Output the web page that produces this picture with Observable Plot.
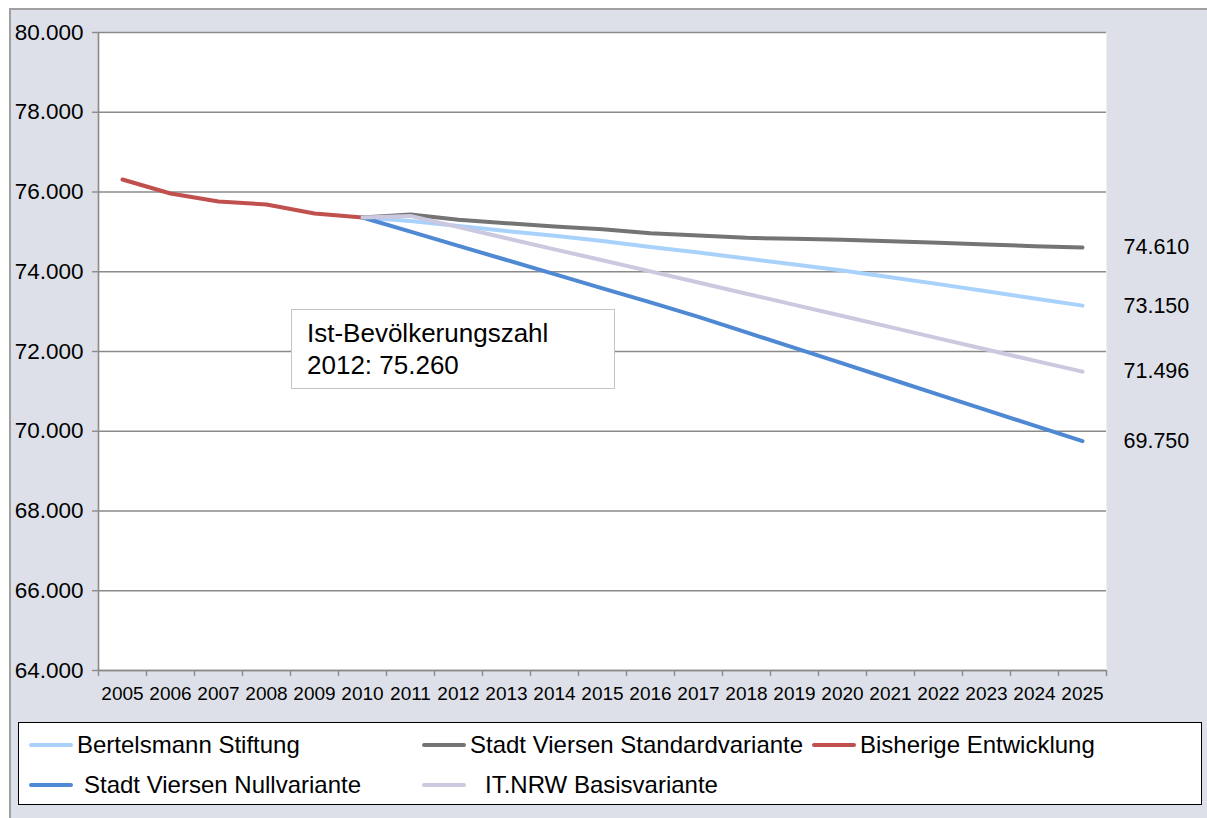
<!DOCTYPE html>
<html>
<head>
<meta charset="utf-8">
<script src="https://cdn.jsdelivr.net/npm/d3@7"></script>
<script src="https://cdn.jsdelivr.net/npm/@observablehq/plot@0.6"></script>
<style>
  html, body { margin: 0; padding: 0; background: #ffffff; font-family: "Liberation Sans", Arial, sans-serif; overflow: hidden; width: 1207px; height: 818px; }
  #frame { position: absolute; left: 9px; top: 8px; width: 1240px; height: 840px; background: #dde0e8; border-top: 2px solid #a0a0a0; border-left: 2px solid #a0a0a0; box-sizing: border-box; }
  #chart { position: absolute; left: 0; top: 0; }
  #note { position: absolute; left: 291px; top: 309px; width: 324px; height: 80px; box-sizing: border-box; background: #fff; border: 1px solid #c4c4c4; padding: 7px 0 0 15px; font-size: 26px; line-height: 32px; color: #000; }
  #legend { position: absolute; left: 18px; top: 722px; width: 1184px; height: 83px; box-sizing: border-box; background: #fff; border: 1.5px solid #000; }
  .item { position: absolute; display: flex; align-items: center; font-size: 24px; color: #000; height: 30px; white-space: nowrap; }
  .sw { width: 44px; height: 4px; border-radius: 2px; margin-right: 4px; }
</style>
</head>
<body>
<div id="frame"></div>
<div id="chart"></div>
<div id="note">Ist-Bevölkerungszahl<br>2012: 75.260</div>
<div id="legend"></div>
<script>
// ---- data ----
const years = [2005, 2006, 2007, 2008, 2009, 2010, 2011, 2012, 2013, 2014, 2015, 2016, 2017, 2018, 2019, 2020, 2021, 2022, 2023, 2024, 2025];
const histYears = [2005, 2006, 2007, 2008, 2009, 2010];
const projYears = [2010, 2011, 2012, 2013, 2014, 2015, 2016, 2017, 2018, 2019, 2020, 2021, 2022, 2023, 2024, 2025];
const bisherige = [76313, 75962, 75762, 75687, 75461, 75361];
const bertelsmann = [75361, 75270, 75150, 75020, 74900, 74770, 74620, 74480, 74330, 74180, 74030, 73860, 73690, 73510, 73330, 73150];
const standard = [75361, 75436, 75303, 75218, 75135, 75068, 74967, 74909, 74851, 74826, 74801, 74766, 74726, 74683, 74641, 74610];
const nullvariante = [75361, 75005, 74650, 74295, 73940, 73585, 73230, 72870, 72480, 72090, 71700, 71310, 70920, 70530, 70140, 69750];
const itnrw = [75361, 75400, 75120, 74840, 74560, 74290, 74010, 73730, 73450, 73170, 72890, 72610, 72330, 72050, 71770, 71496];
const yTicks = [64000, 66000, 68000, 70000, 72000, 74000, 76000, 78000, 80000];
const endLabelSeries = ["Stadt Viersen Standardvariante", "Bertelsmann Stiftung", "IT.NRW Basisvariante", "Stadt Viersen Nullvariante"];

const seriesNames = ["Bertelsmann Stiftung", "Stadt Viersen Standardvariante", "Bisherige Entwicklung", "Stadt Viersen Nullvariante", "IT.NRW Basisvariante"];
const seriesColors = ["#a8d1fb", "#747474", "#c0504d", "#4f88d3", "#cbc8df"];

// ---- build table ----
const rows = [];
const add = (name, xs, vs) => xs.forEach((x, i) => rows.push({series: name, year: x, value: vs[i]}));
add("Bertelsmann Stiftung", projYears, bertelsmann);
add("Stadt Viersen Standardvariante", projYears, standard);
add("Bisherige Entwicklung", histYears, bisherige);
add("Stadt Viersen Nullvariante", projYears, nullvariante);
add("IT.NRW Basisvariante", projYears, itnrw);

const lastYear = years[years.length - 1];
const endPoints = rows.filter(d => d.year === lastYear && endLabelSeries.includes(d.series));

const de = d3.formatLocale({decimal: ",", thousands: ".", grouping: [3], currency: ["", " €"]});
const fmt = de.format(",.0f");

const bounds = [...years.map(y => y - 0.5), lastYear + 0.5];

const plot = Plot.plot({
  width: 1207,
  height: 710,
  marginLeft: 98,
  marginRight: 101,
  marginTop: 32,
  marginBottom: 40,
  style: {background: "transparent", fontFamily: "'Liberation Sans', Arial, sans-serif", color: "#000", overflow: "visible"},
  x: {type: "linear", domain: [years[0] - 0.5, lastYear + 0.5]},
  y: {domain: [yTicks[0], yTicks[yTicks.length - 1]]},
  color: {domain: seriesNames, range: seriesColors},
  marks: [
    Plot.frame({fill: "white", stroke: null}),
    Plot.gridY(yTicks, {stroke: "#8a8a8a", strokeOpacity: 1, strokeWidth: 1.4}),
    Plot.axisY(yTicks, {tickSize: 6, tickPadding: 9, tickFormat: fmt, fontSize: 22.5, stroke: "#8a8a8a", strokeWidth: 1.4, label: null}),
    Plot.ruleX([years[0] - 0.5], {stroke: "#8a8a8a", strokeWidth: 1.6}),
    Plot.ruleY([yTicks[0]], {stroke: "#8a8a8a", strokeWidth: 1.6}),
    Plot.axisX(bounds, {tickSize: 6, tickFormat: () => "", stroke: "#8a8a8a", strokeWidth: 1.4, label: null}),
    Plot.axisX(years, {tickSize: 0, tickPadding: 16, tickFormat: d => String(d), fontSize: 19, label: null}),
    Plot.line(rows, {x: "year", y: "value", z: "series", stroke: "series", strokeWidth: 4, strokeLinecap: "round", strokeLinejoin: "round"}),
    Plot.text(endPoints, {x: "year", y: "value", text: d => fmt(d.value), dx: 41, textAnchor: "start", fontSize: 21.5, fill: "#000"})
  ]
});
document.getElementById("chart").appendChild(plot);

// ---- legend ----
const legendLayout = [
  {name: "Bertelsmann Stiftung", left: 10, top: 7, gap: 4},
  {name: "Stadt Viersen Standardvariante", left: 403, top: 7, gap: 4},
  {name: "Bisherige Entwicklung", left: 793, top: 7, gap: 4},
  {name: "Stadt Viersen Nullvariante", left: 10, top: 47, gap: 11},
  {name: "IT.NRW Basisvariante", left: 403, top: 47, gap: 19}
];
const legend = document.getElementById("legend");
legendLayout.forEach(l => {
  const item = document.createElement("div");
  item.className = "item";
  item.style.left = l.left + "px";
  item.style.top = l.top + "px";
  const sw = document.createElement("div");
  sw.className = "sw";
  sw.style.background = seriesColors[seriesNames.indexOf(l.name)];
  sw.style.marginRight = l.gap + "px";
  const tx = document.createElement("span");
  tx.textContent = l.name;
  item.appendChild(sw);
  item.appendChild(tx);
  legend.appendChild(item);
});
</script>
</body>
</html>
